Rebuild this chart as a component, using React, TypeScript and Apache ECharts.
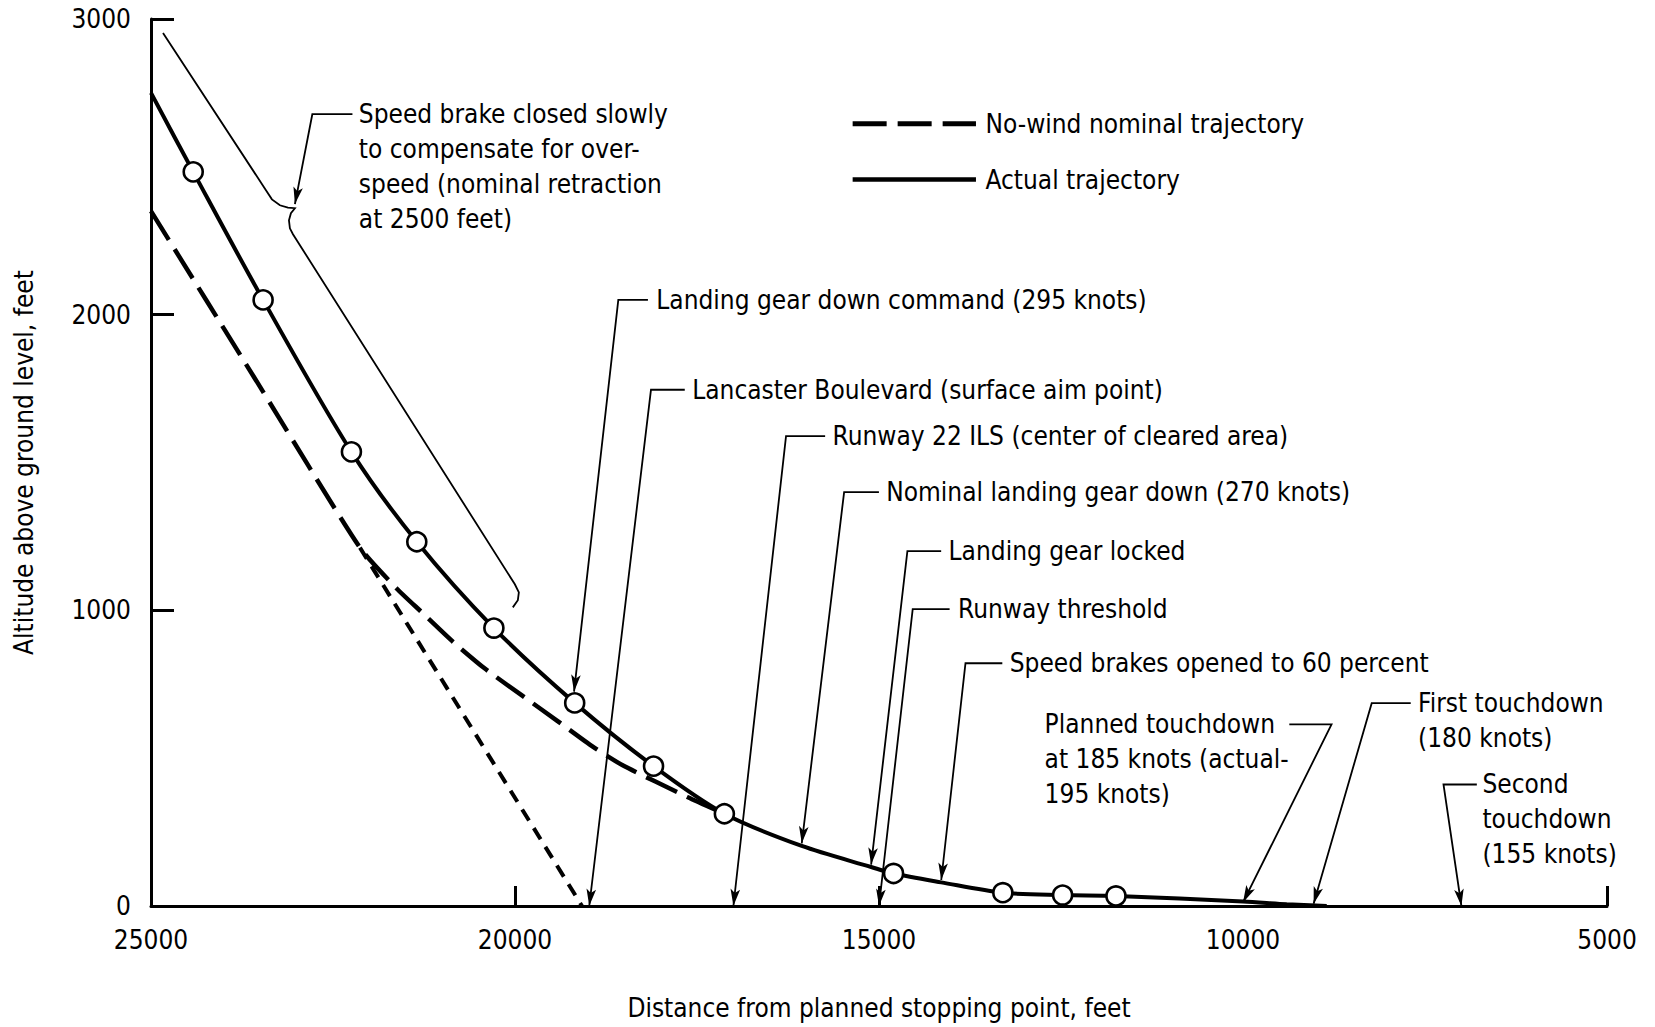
import React, { useEffect, useRef } from "react";
import * as echarts from "echarts";

// ---- axes ----
const xTickValues = [25000, 20000, 15000, 10000, 5000];
const yTickValues = [0, 1000, 2000, 3000];

// ---- actual trajectory (distance from planned stopping point, altitude) ----
const actualDistance = [25000, 24420, 23460, 22247, 21349, 20290, 19180, 18097, 17124, 16061, 15108, 14800, 14145, 13299, 12478, 11745, 10000, 9400, 8850];
const actualAltitude = [2750, 2483, 2050, 1536, 1232, 940, 687, 473, 312, 203, 132, 110, 80, 45, 37, 34, 15, 6, 0];
const actualMarked = [false, true, true, true, true, true, true, true, true, false, false, true, false, true, true, true, false, false, false];

// ---- no-wind nominal trajectory ----
const nominalDistance = [25000, 23550, 22130, 21626, 21283, 20849, 20414, 19910, 19429, 18927, 18515, 17625, 17124];
const nominalAltitude = [2350, 1775, 1212, 1074, 994, 893, 803, 713, 628, 538, 475, 368, 312];

// ---- straight-line extension of the nominal glide slope ----
const extensionDistance = [22130, 19080];
const extensionAltitude = [1212, 0];

// ---- bracket beside the actual trajectory ----
const bracketDistance = [24835, 23421, 23339, 23229, 23119, 23023, 23078, 23105, 23092, 23050, 20002, 19947, 19961, 20030];
const bracketAltitude = [2953, 2421, 2390, 2370, 2362, 2360, 2343, 2319, 2292, 2272, 1088, 1061, 1034, 1010];

// ---- annotations: text anchor, horizontal leader start, elbow, arrow tip (data units) ----
const annotationTexts = [
  ["Speed brake closed slowly", "to compensate for over-", "speed (nominal retraction", "at 2500 feet)"],
  ["Landing gear down command (295 knots)"],
  ["Lancaster Boulevard (surface aim point)"],
  ["Runway 22 ILS (center of cleared area)"],
  ["Nominal landing gear down (270 knots)"],
  ["Landing gear locked"],
  ["Runway threshold"],
  ["Speed brakes opened to 60 percent"],
  ["Planned touchdown", "at 185 knots (actual-", "195 knots)"],
  ["First touchdown", "(180 knots)"],
  ["Second", "touchdown", "(155 knots)"],
];
const annotationTextAt = [
  [22145, 2678], [18059, 2050], [17566, 1746], [15638, 1589], [14900, 1400], [14044, 1200],
  [13914, 1004], [13204, 821], [12725, 614], [7595, 686], [6711, 411],
];
const annotationLeaderStart = [
  [22233, 2678], [18174, 2050], [17668, 1746], [15740, 1589], [15001, 1400], [14146, 1200],
  [14030, 1004], [13306, 821], [9364, 614], [7696, 686], [6788, 411],
];
const annotationElbow = [
  [22784, 2678], [18581, 2050], [18132, 1746], [16277, 1589], [15479, 1400], [14610, 1200],
  [14537, 1004], [13812, 821], [8784, 614], [8232, 686], [7246, 411],
];
const annotationTip = [
  [23023, 2374], [19189, 725], [18980, 0], [17000, 0], [16061, 212], [15108, 140],
  [15000, 0], [14145, 88], [10000, 12], [9030, 8], [7000, 0],
];

// ---- legend ----
const legendNames = ["No-wind nominal trajectory", "Actual trajectory"];
const legendLineFrom = [15362, 15362];
const legendLineTo = [13668, 13668];
const legendTextAt = [13538, 13538];
const legendAltitude = [2646, 2457];

const TEXT_FONT = "'DejaVu Sans Condensed', 'Liberation Sans Narrow', sans-serif";
const NUM_FONT = "'Liberation Sans Narrow', 'DejaVu Sans Condensed', sans-serif";

export default function App() {
  const ref = useRef<HTMLDivElement>(null);

  useEffect(() => {
    const el = ref.current;
    if (!el) return;
    const chart = echarts.init(el, undefined, { renderer: "svg" });

    const option: any = {
      animation: false,
      backgroundColor: "#ffffff",
      grid: { left: 151, right: 48, top: 19, bottom: 121, containLabel: false },
      xAxis: {
        type: "value",
        min: 5000,
        max: 25000,
        interval: 5000,
        inverse: true,
        name: "Distance from planned stopping point, feet",
        nameLocation: "middle",
        nameGap: 89,
        nameTextStyle: { fontSize: 26, color: "#000", fontFamily: TEXT_FONT },
        axisLine: { show: true, onZero: false, lineStyle: { color: "#000", width: 3 } },
        axisTick: { show: true, inside: true, length: 20, customValues: [20000, 15000, 5000], lineStyle: { color: "#000", width: 3 } },
        axisLabel: {
          show: true,
          margin: 21,
          fontSize: 26,
          color: "#000",
          fontFamily: NUM_FONT,
          customValues: xTickValues,
          formatter: (v: number) => String(v),
        },
        splitLine: { show: false },
      },
      yAxis: {
        type: "value",
        min: 0,
        max: 3000,
        interval: 1000,
        name: "Altitude above ground level, feet",
        nameLocation: "middle",
        nameGap: 114,
        nameRotate: 90,
        nameTextStyle: { fontSize: 26, color: "#000", fontFamily: TEXT_FONT },
        axisLine: { show: true, onZero: false, lineStyle: { color: "#000", width: 3 } },
        axisTick: { show: true, inside: true, length: 23, lineStyle: { color: "#000", width: 3 } },
        axisLabel: {
          show: true,
          margin: 20,
          fontSize: 26,
          color: "#000",
          fontFamily: NUM_FONT,
          customValues: yTickValues,
          formatter: (v: number) => String(v),
        },
        splitLine: { show: false },
      },
      series: [
        {
          name: "Straight glide slope extension",
          type: "line",
          silent: true,
          symbol: "none",
          z: 2,
          data: extensionDistance.map((d, i) => [d, extensionAltitude[i]]),
          lineStyle: { color: "#000", width: 4, type: [13, 9] },
        },
        {
          name: legendNames[0],
          type: "line",
          silent: true,
          symbol: "none",
          smooth: 0.2,
          z: 3,
          data: nominalDistance.map((d, i) => [d, nominalAltitude[i]]),
          lineStyle: { color: "#000", width: 4.5, type: [34, 11] },
        },
        {
          name: legendNames[1],
          type: "line",
          silent: true,
          smooth: 0.3,
          z: 4,
          showSymbol: true,
          showAllSymbol: true,
          symbolSize: 19,
          data: actualDistance.map((d, i) => ({
            value: [d, actualAltitude[i]],
            symbol: actualMarked[i] ? "circle" : "none",
          })),
          lineStyle: { color: "#000", width: 4 },
          itemStyle: { color: "#fff", borderColor: "#000", borderWidth: 2.6 },
        },
      ],
    };
    chart.setOption(option);

    const px = (p: number[]) => chart.convertToPixel({ gridIndex: 0 }, p) as number[];
    const graphics: any[] = [];
    const thin = { stroke: "#000", lineWidth: 1.8, fill: null };

    const arrowHead = (from: number[], tip: number[]) => {
      const dx = tip[0] - from[0];
      const dy = tip[1] - from[1];
      const len = Math.sqrt(dx * dx + dy * dy) || 1;
      const ux = dx / len;
      const uy = dy / len;
      const nx = -uy;
      const ny = ux;
      const L = 17;
      const W = 4.8;
      const N = 4;
      return {
        type: "polygon",
        z: 10,
        shape: {
          points: [
            [tip[0], tip[1]],
            [tip[0] - ux * L + nx * W, tip[1] - uy * L + ny * W],
            [tip[0] - ux * (L - N), tip[1] - uy * (L - N)],
            [tip[0] - ux * L - nx * W, tip[1] - uy * L - ny * W],
          ],
        },
        style: { fill: "#000" },
      };
    };

    // bracket
    graphics.push({
      type: "polyline",
      z: 9,
      shape: { points: bracketDistance.map((d, i) => px([d, bracketAltitude[i]])) },
      style: thin,
    });

    // annotations
    annotationTexts.forEach((lines, i) => {
      const t = px(annotationTextAt[i]);
      const s = px(annotationLeaderStart[i]);
      const e = px(annotationElbow[i]);
      const tip = px(annotationTip[i]);
      graphics.push({
        type: "polyline",
        z: 9,
        shape: { points: [s, e, tip] },
        style: thin,
      });
      graphics.push(arrowHead(e, tip));
      graphics.push({
        type: "text",
        z: 11,
        x: t[0],
        y: t[1] - 17.5,
        style: {
          text: lines.join("\n"),
          fontSize: 26,
          fontFamily: TEXT_FONT,
          fill: "#000",
          lineHeight: 35,
          align: "left",
          verticalAlign: "top",
        },
      });
    });

    // legend
    legendNames.forEach((name, i) => {
      const a = px([legendLineFrom[i], legendAltitude[i]]);
      const b = px([legendLineTo[i], legendAltitude[i]]);
      const tt = px([legendTextAt[i], legendAltitude[i]]);
      graphics.push({
        type: "line",
        z: 9,
        shape: { x1: a[0], y1: a[1], x2: b[0], y2: b[1] },
        style: { stroke: "#000", lineWidth: i === 0 ? 5 : 4.5, lineDash: i === 0 ? [34, 11] : null },
      });
      graphics.push({
        type: "text",
        z: 11,
        x: tt[0],
        y: tt[1],
        style: {
          text: name,
          fontSize: 26,
          fontFamily: TEXT_FONT,
          fill: "#000",
          align: "left",
          verticalAlign: "middle",
        },
      });
    });

    chart.setOption({ graphic: graphics });

    return () => {
      chart.dispose();
    };
  }, []);

  return (
    <div
      ref={ref}
      style={{ position: "fixed", left: 0, top: 0, width: 1655, height: 1027, background: "#fff" }}
    />
  );
}
